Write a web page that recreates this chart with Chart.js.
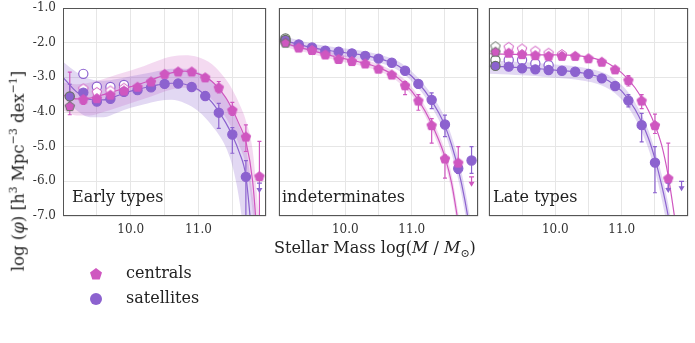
<!DOCTYPE html>
<html lang="en">
<head>
<meta charset="UTF-8" />
<title>Stellar mass functions</title>
<script src="https://cdn.jsdelivr.net/npm/chart.js"></script>
<style>
    body { margin: 0; background: #fff; font-family: "DejaVu Serif", serif; color: #222; }
    #wrap { position: relative; width: 695px; height: 343px; overflow: hidden; }
    #wrap canvas { position: absolute; top: 0; }
    .txt { position: absolute; font-size: 16px; line-height: 16px; white-space: nowrap; color: #222; }
    #ytitle { left: 16px; top: 171px; font-size: 16.5px; transform: translate(-50%, -50%) rotate(-90deg); }
    #xtitle { left: 274px; top: 240px; }
    .legend { position: absolute; left: 88px; font-size: 16px; line-height: 16px; }
    .legend svg { position: absolute; left: 0; top: 0; }
    .legend span { position: absolute; left: 38px; top: -1px; white-space: nowrap; }
</style>
</head>
<body>
<div id="wrap">
    <canvas id="c1" width="272" height="240" style="left:0px"></canvas>
    <canvas id="c2" width="211" height="240" style="left:273px"></canvas>
    <canvas id="c3" width="211" height="240" style="left:483px"></canvas>

    <div class="txt" style="left:72px; top:189px">Early types</div>
    <div class="txt" style="left:282px; top:189px">indeterminates</div>
    <div class="txt" style="left:493px; top:189px">Late types</div>

    <div class="txt" id="ytitle">log (<i>φ</i>) [h<sup style="font-size:11px">3</sup> Mpc<sup style="font-size:11px">−3</sup> dex<sup style="font-size:11px">−1</sup>]</div>
    <div class="txt" id="xtitle">Stellar Mass log(<i>M</i> / <i>M</i><sub style="font-size:11px">⊙</sub>)</div>

    <div class="legend" style="top:266px">
        <svg width="16" height="16"><polygon points="8,2 14,6.4 11.7,13.5 4.3,13.5 2,6.4" fill="#cf57c0" /></svg>
        <span>centrals</span>
    </div>
    <div class="legend" style="top:291px">
        <svg width="16" height="16"><circle cx="8" cy="8" r="6" fill="#8c62cf" /></svg>
        <span>satellites</span>
    </div>
</div>

<script>
    // mass bins of the measured points, and grid of the fitted curves
    const massBins = [9.1, 9.3, 9.5, 9.7, 9.9, 10.1, 10.3, 10.5, 10.7, 10.9, 11.1, 11.3, 11.5, 11.7, 11.9];
    const fitMass = [9.0, 9.2, 9.4, 9.6, 9.8, 10.0, 10.2, 10.4, 10.6, 10.8, 11.0, 11.2, 11.4, 11.5, 11.6, 11.7, 11.8, 11.9];
    const xTicks = [10.0, 11.0];
    const yTicks = [-1, -2, -3, -4, -5, -6, -7];

    // Early types
    const earlyCen = [-3.83, -3.63, -3.60, -3.50, -3.38, -3.27, -3.12, -2.90, -2.83, -2.83, -3.00, -3.29, -3.94, -4.71, -5.85];
    const earlyCenOpen = [null, -3.32, -3.42, -3.38, -3.30, null, null, null, null, null, null, null, null, null, null];
    const earlySat = [-3.55, -3.44, -3.70, -3.62, -3.42, -3.37, -3.29, -3.19, -3.18, -3.28, -3.54, -4.02, -4.65, -5.87, null];
    const earlySatOpen = [null, -2.90, -3.27, -3.28, -3.22, null, null, null, null, null, null, null, null, null, null];
    const earlyCenErr = [[-4.08, -2.85], [-3.78, -3.50], null, null, null, null, null, null, null, null, [-3.10, -2.92], [-3.45, -3.12], [-4.10, -3.72], [-5.14, -4.37], [-7.0, -4.85]];
    const earlySatErr = [[-3.85, -3.20], [-3.55, -3.35], null, null, null, null, null, null, null, [-3.33, -3.22], [-3.65, -3.42], [-4.47, -3.75], [-5.19, -4.45], [-7.0, -5.40], null];
    const earlyCenLim = [null, null, null, null, null, null, null, null, null, null, null, null, null, null, null];
    const earlySatLim = [null, null, null, null, null, null, null, null, null, null, null, null, null, null, -6.05];
    const earlyCenFit = [-3.51, -3.62, -3.60, -3.50, -3.38, -3.27, -3.15, -3.00, -2.87, -2.82, -2.90, -3.12, -3.58, -3.93, -4.35, -4.85, -6.00, -8.50];
    const earlyCenHi = [-3.15, -3.20, -3.15, -3.05, -2.92, -2.80, -2.67, -2.52, -2.40, -2.36, -2.42, -2.62, -3.05, -3.35, -3.75, -4.25, -5.10, -7.20];
    const earlyCenLo = [-3.95, -4.10, -4.10, -4.00, -3.88, -3.75, -3.62, -3.48, -3.35, -3.30, -3.40, -3.65, -4.15, -4.50, -4.95, -5.55, -6.90, -9.50];
    const earlySatFit = [-3.00, -3.42, -3.64, -3.65, -3.53, -3.40, -3.30, -3.22, -3.17, -3.20, -3.36, -3.72, -4.30, -4.68, -5.15, -5.85, -7.80, -9.50];
    const earlySatHi = [-2.55, -2.85, -3.05, -3.10, -3.05, -2.97, -2.90, -2.82, -2.75, -2.75, -2.85, -3.10, -3.60, -3.95, -4.40, -5.00, -6.40, -8.00];
    const earlySatLo = [-3.55, -3.95, -4.15, -4.15, -4.02, -3.88, -3.78, -3.68, -3.65, -3.75, -3.98, -4.40, -5.00, -5.55, -6.50, -8.00, -9.50, -11.0];

    // indeterminates
    const indCen = [-2.00, -2.14, -2.21, -2.34, -2.47, -2.53, -2.60, -2.75, -2.92, -3.23, -3.67, -4.38, -5.34, -5.46, null];
    const indCenOpen = [-1.96, -2.10, -2.17, -2.30, -2.43, null, null, null, null, null, null, null, null, null, null];
    const indSat = [-1.92, -2.05, -2.14, -2.23, -2.26, -2.31, -2.38, -2.46, -2.58, -2.81, -3.19, -3.65, -4.36, -5.63, -5.40];
    const indSatOpen = [-1.88, null, null, null, null, null, null, null, null, null, null, null, null, null, null];
    const indCenErr = [null, null, null, null, null, null, null, null, null, [-3.50, -3.12], [-3.95, -3.50], [-4.90, -4.19], [-5.91, -5.24], [-5.77, -5.00], null];
    const indSatErr = [null, null, null, null, null, null, null, null, null, null, [-3.30, -3.10], [-3.90, -3.45], [-4.71, -4.09], [-5.77, -5.40], [-5.77, -5.00]];
    const indCenLim = [null, null, null, null, null, null, null, null, null, null, null, null, null, null, -5.87];
    const indSatLim = [null, null, null, null, null, null, null, null, null, null, null, null, null, null, null];
    const indCenFit = [-1.95, -2.08, -2.18, -2.28, -2.38, -2.47, -2.55, -2.65, -2.80, -3.03, -3.40, -3.97, -4.78, -5.30, -6.05, -7.20, -8.40, -9.60];
    const indCenHi = [-1.85, -1.98, -2.08, -2.18, -2.28, -2.37, -2.45, -2.55, -2.70, -2.92, -3.28, -3.83, -4.60, -5.10, -5.80, -6.90, -8.00, -9.20];
    const indCenLo = [-2.05, -2.18, -2.28, -2.38, -2.48, -2.57, -2.65, -2.75, -2.90, -3.14, -3.52, -4.11, -4.96, -5.50, -6.30, -7.50, -8.80, -10.0];
    const indSatFit = [-1.90, -2.00, -2.10, -2.18, -2.24, -2.29, -2.34, -2.41, -2.51, -2.67, -2.97, -3.40, -4.00, -4.40, -4.95, -5.65, -6.55, -7.70];
    const indSatHi = [-1.78, -1.88, -1.98, -2.06, -2.12, -2.17, -2.22, -2.29, -2.39, -2.54, -2.83, -3.24, -3.80, -4.18, -4.70, -5.35, -6.20, -7.30];
    const indSatLo = [-2.02, -2.12, -2.22, -2.30, -2.36, -2.41, -2.46, -2.53, -2.63, -2.80, -3.11, -3.56, -4.20, -4.62, -5.20, -5.95, -6.90, -8.10];

    // Late types
    const lateCen = [-2.26, -2.29, -2.33, -2.36, -2.38, -2.38, -2.38, -2.45, -2.55, -2.77, -3.08, -3.67, -4.38, -5.91, null];
    const lateCenOpen = [-2.10, -2.12, -2.17, -2.23, -2.29, -2.33, null, null, null, null, null, null, null, null, null];
    const lateSat = [-2.67, -2.69, -2.74, -2.77, -2.79, -2.81, -2.84, -2.90, -3.03, -3.25, -3.67, -4.38, -5.46, null, null];
    const lateSatOpen = [-2.50, -2.50, -2.50, -2.60, -2.65, null, null, null, null, null, null, null, null, null, null];
    const lateCenErr = [null, null, null, null, null, null, null, null, null, [-2.85, -2.70], [-3.25, -2.95], [-3.90, -3.50], [-4.62, -4.06], [-6.20, -4.90], null];
    const lateSatErr = [null, null, null, null, null, null, null, null, null, [-3.35, -3.15], [-3.85, -3.50], [-4.86, -4.04], [-6.33, -5.00], null, null];
    const lateCenLim = [null, null, null, null, null, null, null, null, null, null, null, null, null, null, null];
    const lateSatLim = [null, null, null, null, null, null, null, null, null, null, null, null, null, -6.05, -6.00];
    const lateCenFit = [-2.32, -2.33, -2.34, -2.35, -2.35, -2.35, -2.36, -2.39, -2.46, -2.60, -2.87, -3.30, -3.95, -4.38, -4.95, -5.85, -7.10, -8.50];
    const lateSatFit = [-2.68, -2.69, -2.71, -2.73, -2.76, -2.79, -2.82, -2.87, -2.95, -3.10, -3.40, -3.92, -4.75, -5.35, -6.10, -7.00, -8.20, -9.50];
    const lateSatHi = [-2.52, -2.53, -2.55, -2.57, -2.60, -2.63, -2.66, -2.71, -2.79, -2.93, -3.22, -3.72, -4.52, -5.10, -5.80, -6.65, -7.80, -9.00];
    const lateSatLo = [-2.90, -2.91, -2.93, -2.95, -2.98, -3.01, -3.04, -3.09, -3.17, -3.33, -3.64, -4.18, -5.05, -5.70, -6.50, -7.50, -8.80, -10.0];

    const PINK = '#cf57c0';
    const PURPLE = '#8c62cf';
    const PINK_BAND = 'rgba(207, 87, 192, 0.22)';
    const PURPLE_BAND = 'rgba(140, 98, 207, 0.25)';
    const EDGE_LOW = '#667066';

    function pentagon(fill, stroke) {
        const c = document.createElement('canvas');
        c.width = 12; c.height = 12;
        const g = c.getContext('2d');
        g.beginPath();
        for (let k = 0; k < 5; k++) {
            const a = -Math.PI / 2 + k * 2 * Math.PI / 5;
            g.lineTo(6 + 5 * Math.cos(a), 6.5 + 5 * Math.sin(a));
        }
        g.closePath();
        g.fillStyle = fill;
        g.fill();
        g.lineWidth = 1;
        g.strokeStyle = stroke;
        g.stroke();
        return c;
    }
    const pentFill = pentagon(PINK, PINK);
    const pentFillLow = pentagon(PINK, EDGE_LOW);
    const pentOpen = pentagon('#fff', PINK);
    const pentOpenLow = pentagon('#fff', EDGE_LOW);

    function pts(xs, ys) {
        const out = [];
        xs.forEach(function (x, i) { if (ys[i] !== null) out.push({ x: x, y: ys[i] }); });
        return out;
    }
    const isLow = ctx => ctx.raw && ctx.raw.x === 9.1;

    const errBars = {
        id: 'errBars',
        afterDatasetDraw(chart, args) {
            if (!chart.data.datasets[args.index].errHook) return;
            const o = chart.options.plugins.errBars;
            const xs = chart.scales.x, ys = chart.scales.y, a = chart.chartArea;
            const ctx = chart.ctx;
            ctx.save();
            ctx.beginPath();
            ctx.rect(a.left, a.top, a.right - a.left, a.bottom - a.top);
            ctx.clip();
            o.series.forEach(function (s) {
                ctx.strokeStyle = s.color;
                ctx.fillStyle = s.color;
                ctx.lineWidth = 1.2;
                massBins.forEach(function (m, i) {
                    const px = xs.getPixelForValue(m);
                    const e = s.err[i];
                    if (e) {
                        const y1 = ys.getPixelForValue(e[0]), y2 = ys.getPixelForValue(e[1]);
                        ctx.beginPath();
                        ctx.moveTo(px, y1); ctx.lineTo(px, y2);
                        ctx.moveTo(px - 2, y1); ctx.lineTo(px + 2, y1);
                        ctx.moveTo(px - 2, y2); ctx.lineTo(px + 2, y2);
                        ctx.stroke();
                    }
                    const l = s.lim[i];
                    if (l !== null) {
                        const py = ys.getPixelForValue(l);
                        ctx.beginPath();
                        ctx.moveTo(px - 2.5, py); ctx.lineTo(px + 2.5, py);
                        ctx.moveTo(px, py); ctx.lineTo(px, py + 6);
                        ctx.stroke();
                        ctx.beginPath();
                        ctx.moveTo(px - 3, py + 5); ctx.lineTo(px + 3, py + 5); ctx.lineTo(px, py + 10);
                        ctx.closePath();
                        ctx.fill();
                    }
                });
            });
            ctx.restore();
        }
    };

    const frame = {
        id: 'frame',
        afterDraw(chart) {
            const a = chart.chartArea, ctx = chart.ctx;
            ctx.save();
            ctx.strokeStyle = '#555';
            ctx.lineWidth = 1;
            ctx.strokeRect(Math.round(a.left) + 0.5, Math.round(a.top) + 0.5, Math.round(a.right - a.left) - 1, Math.round(a.bottom - a.top) - 1);
            ctx.restore();
        }
    };

    function criarPainel(id, p, primeiro) {
        const curve = { showLine: true, pointRadius: 0, cubicInterpolationMode: 'monotone', borderWidth: 1.2 };
        const datasets = [
            Object.assign({ data: pts(fitMass, p.satFit), borderColor: PURPLE, order: 1, errHook: true }, curve),
            Object.assign({ data: pts(fitMass, p.cenFit), borderColor: PINK, order: 1 }, curve),
            {
                data: pts(massBins, p.cen), showLine: false, order: 0,
                pointStyle: ctx => isLow(ctx) ? pentFillLow : pentFill
            },
            {
                data: pts(massBins, p.sat), showLine: false, order: 0, pointStyle: 'circle', pointRadius: 4.6,
                pointBackgroundColor: PURPLE, pointBorderWidth: 1.2,
                pointBorderColor: ctx => isLow(ctx) ? EDGE_LOW : PURPLE
            },
            {
                data: pts(massBins, p.cenOpen), showLine: false, order: 0,
                pointStyle: ctx => isLow(ctx) ? pentOpenLow : pentOpen
            },
            {
                data: pts(massBins, p.satOpen), showLine: false, order: 0, pointStyle: 'circle', pointRadius: 4.6,
                pointBackgroundColor: '#fff', pointBorderWidth: 1.2,
                pointBorderColor: ctx => isLow(ctx) ? EDGE_LOW : PURPLE
            }
        ];
        const bands = [[p.satHi, p.satLo, PURPLE_BAND], [p.cenHi, p.cenLo, PINK_BAND]];
        bands.forEach(function (b) {
            if (!b[0]) return;
            datasets.push(Object.assign({}, curve, { data: pts(fitMass, b[0]), fill: '+1', backgroundColor: b[2], borderWidth: 0, order: 2 }));
            datasets.push(Object.assign({}, curve, { data: pts(fitMass, b[1]), fill: false, borderWidth: 0, order: 2 }));
        });

        new Chart(document.getElementById(id), {
            type: 'scatter',
            data: { datasets: datasets },
            plugins: [errBars, frame],
            options: {
                responsive: false,
                animation: false,
                devicePixelRatio: 1,
                layout: { padding: { top: 8, right: 2, left: primeiro ? 0 : 2, bottom: 0 } },
                plugins: {
                    legend: { display: false },
                    tooltip: { enabled: false },
                    errBars: {
                        series: [
                            { color: PINK, err: p.cenErr, lim: p.cenLim },
                            { color: PURPLE, err: p.satErr, lim: p.satLim }
                        ]
                    }
                },
                scales: {
                    x: {
                        type: 'linear', min: 9.0, max: 12.0,
                        border: { display: false },
                        grid: { color: '#e6e6e6', drawTicks: false },
                        afterFit: s => { s.height = 24; s.paddingLeft = 0; s.paddingRight = 0; },
                        ticks: {
                            stepSize: 0.5, autoSkip: false, maxRotation: 0, padding: 7, color: '#333',
                            font: { family: 'DejaVu Serif', size: 12 },
                            callback: v => xTicks.includes(v) ? v.toFixed(1) : ''
                        }
                    },
                    y: {
                        type: 'linear', min: -7.0, max: -1.0,
                        border: { display: false },
                        grid: { color: '#e6e6e6', drawTicks: false },
                        afterFit: s => { s.width = primeiro ? 63 : 0; s.paddingTop = 0; s.paddingBottom = 0; },
                        ticks: {
                            display: primeiro, stepSize: 1, padding: 7, color: '#333',
                            font: { family: 'DejaVu Serif', size: 12 },
                            callback: v => yTicks.includes(v) ? v.toFixed(1) : ''
                        }
                    }
                },
                elements: { point: { radius: 5, backgroundColor: PINK, borderWidth: 0 } }
            }
        });
    }

    criarPainel('c1', {
        cen: earlyCen, cenOpen: earlyCenOpen, sat: earlySat, satOpen: earlySatOpen,
        cenErr: earlyCenErr, satErr: earlySatErr, cenLim: earlyCenLim, satLim: earlySatLim,
        cenFit: earlyCenFit, cenHi: earlyCenHi, cenLo: earlyCenLo,
        satFit: earlySatFit, satHi: earlySatHi, satLo: earlySatLo
    }, true);

    criarPainel('c2', {
        cen: indCen, cenOpen: indCenOpen, sat: indSat, satOpen: indSatOpen,
        cenErr: indCenErr, satErr: indSatErr, cenLim: indCenLim, satLim: indSatLim,
        cenFit: indCenFit, cenHi: indCenHi, cenLo: indCenLo,
        satFit: indSatFit, satHi: indSatHi, satLo: indSatLo
    }, false);

    criarPainel('c3', {
        cen: lateCen, cenOpen: lateCenOpen, sat: lateSat, satOpen: lateSatOpen,
        cenErr: lateCenErr, satErr: lateSatErr, cenLim: lateCenLim, satLim: lateSatLim,
        cenFit: lateCenFit, cenHi: null, cenLo: null,
        satFit: lateSatFit, satHi: lateSatHi, satLo: lateSatLo
    }, false);
</script>
</body>
</html>
